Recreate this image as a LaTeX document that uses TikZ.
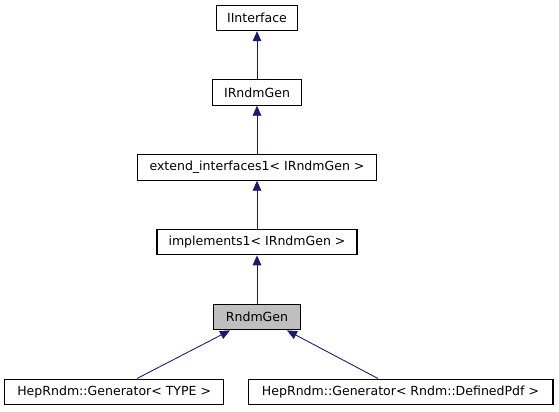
\documentclass[tikz,border=0pt]{standalone}
\usepackage{fontspec}
\setmainfont{DejaVu Sans}
\usetikzlibrary{arrows.meta}
\definecolor{edgeblue}{HTML}{191970}
\begin{document}
\begin{tikzpicture}[x=0.75pt, y=-0.75pt, font=\fontsize{9.4}{11}\selectfont,
		cls/.style = {draw, line width=0.8pt, minimum height=19pt, inner sep=0pt},
		cur/.style = {cls, fill=black!25},
		inh/.style = {draw=edgeblue, line width=0.65pt, {Triangle[length=7.5pt, width=6.5pt]}-}]
		\useasboundingbox (0,0) rectangle (559,411);

		\node[cls, minimum width=61pt] (II) at (257,18) {IInterface};
		\node[cls, minimum width=67pt] (IR) at (257,92.5) {IRndmGen};
		\node[cls, minimum width=179.5pt] (EI) at (257,167.5) {extend\_interfaces1< IRndmGen >};
		\node[cls, minimum width=150pt] (IM) at (257,242.2) {implements1< IRndmGen >};
		\node[cur, minimum width=65.8pt] (RG) at (257,317.2) {RndmGen};
		\node[cls, minimum width=164.2pt] (GT) at (114.2,391.7) {HepRndm::Generator< TYPE >};
		\node[cls, minimum width=228.7pt] (GD) at (400.5,391.7) {HepRndm::Generator< Rndm::DefinedPdf >};

		\coordinate (rgl) at (RG.south west -| 230,0);
		\coordinate (rgr) at (RG.south east -| 287,0);
		\coordinate (gtt) at (GT.north -| 137,0);
		\coordinate (gdt) at (GD.north -| 378,0);

		\draw[inh] (II) to (IR);
		\draw[inh] (IR) to (EI);
		\draw[inh] (EI) to (IM);
		\draw[inh] (IM) to (RG);
		\draw[inh] (rgl) to (gtt);
		\draw[inh] (rgr) to (gdt);
	\end{tikzpicture}
\end{document}
